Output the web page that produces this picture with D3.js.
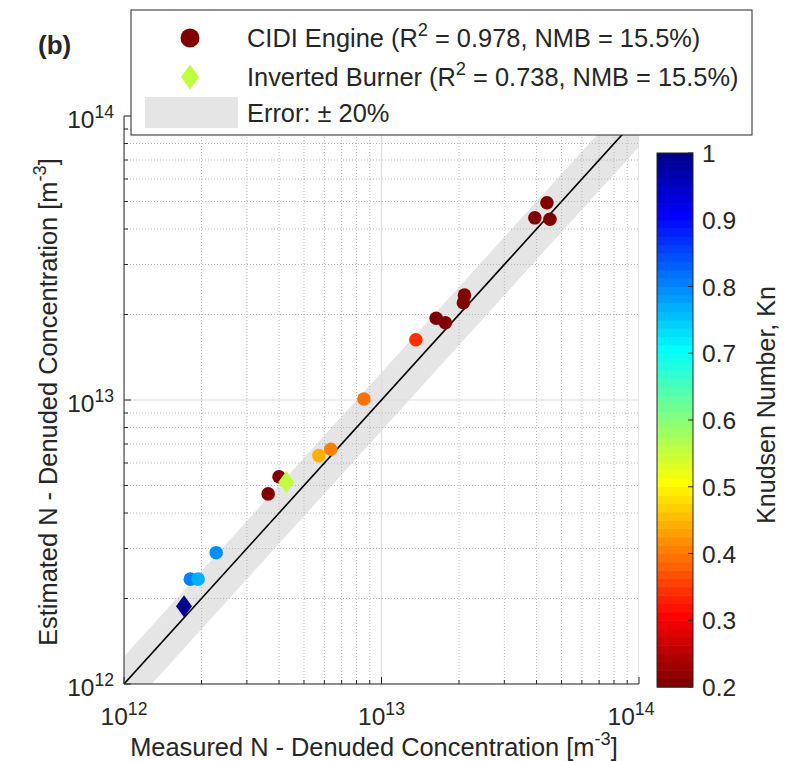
<!DOCTYPE html>
<html><head><meta charset="utf-8">
<script src="https://cdn.jsdelivr.net/npm/d3@7"></script>
<style>
body{margin:0;background:#fff}
text{font-family:"Liberation Sans",Arial,Helvetica,sans-serif;fill:#262626}
</style>
</head><body>
<svg id="chart" width="792" height="761"></svg>
<script>
// ---- data ----
const cidiMeasured  = [4.39e13, 3.94e13, 4.51e13, 2.10e13, 2.08e13, 1.63e13, 1.77e13, 1.36e13, 8.54e12, 6.35e12, 5.71e12, 4.00e12, 3.63e12, 2.28e12, 1.81e12, 1.94e12];
const cidiEstimated = [4.95e13, 4.38e13, 4.33e13, 2.34e13, 2.20e13, 1.94e13, 1.87e13, 1.63e13, 1.008e13, 6.71e12, 6.37e12, 5.37e12, 4.67e12, 2.90e12, 2.34e12, 2.34e12];
const cidiKn        = [0.2, 0.2, 0.2, 0.2, 0.2, 0.2, 0.2, 0.344, 0.394, 0.406, 0.444, 0.2, 0.2, 0.794, 0.806, 0.769];
const burnerMeasured  = [4.27e12, 1.71e12];
const burnerEstimated = [5.14e12, 1.88e12];
const burnerKn        = [0.556, 1.0];
const axisTicks = [1e12, 1e13, 1e14];
const axisTickExponents = ["12", "13", "14"];
const knTicks = [0.2, 0.3, 0.4, 0.5, 0.6, 0.7, 0.8, 0.9, 1];
const knTickLabels = ["0.2", "0.3", "0.4", "0.5", "0.6", "0.7", "0.8", "0.9", "1"];
const errorUpper = 1.25, errorLower = 0.78;
const legendEntries = [
  {type: "circle", parts: [["CIDI Engine (R"], ["2", true], [" = 0.978, NMB = 15.5%)"]]},
  {type: "diamond", parts: [["Inverted Burner (R"], ["2", true], [" = 0.738, NMB = 15.5%)"]]},
  {type: "band", parts: [["Error: \u00b1 20%"]]}
];

// ---- MATLAB jet(64), flipped ----
function jet(m) {
  const n = Math.ceil(m / 4), u = [];
  for (let i = 1; i <= n; i++) u.push(i / n);
  for (let i = 0; i < n - 1; i++) u.push(1);
  for (let i = n; i >= 1; i--) u.push(i / n);
  const off = Math.ceil(n / 2) - (m % 4 === 1 ? 1 : 0);
  const J = d3.range(m).map(() => [0, 0, 0]);
  u.forEach((val, k) => {
    const g = off + k + 1, r = g + n, b = g - n;
    if (r <= m) J[r - 1][0] = val;
    if (g <= m) J[g - 1][1] = val;
    if (b >= 1 && b <= m) J[b - 1][2] = val;
  });
  return J.map(c => d3.rgb(c[0] * 255, c[1] * 255, c[2] * 255).formatHex());
}
const cmap = jet(64).reverse();
const knMin = 0.2, knMax = 1.0;
function knColor(v) {
  let i = Math.floor((v - knMin) / (knMax - knMin) * 64);
  i = Math.max(0, Math.min(63, i));
  return cmap[i];
}

const svg = d3.select("#chart");
const x = d3.scaleLog().domain([1e12, 1e14]).range([124, 639]);
const y = d3.scaleLog().domain([1e12, 1e14]).range([684, 116]);
const [x0, x1] = x.range(), [y0, y1] = y.range();

svg.append("clipPath").attr("id", "plotclip").append("rect")
  .attr("x", x0).attr("y", y1).attr("width", x1 - x0).attr("height", y0 - y1);

const plot = svg.append("g").attr("clip-path", "url(#plotclip)");

// error band
const bandX = [1e11, 1e15];
const bandPts = bandX.map(v => [x(v), y(v * errorUpper)])
  .concat(bandX.slice().reverse().map(v => [x(v), y(v * errorLower)]));
plot.append("polygon").attr("points", bandPts.map(p => p.join(",")).join(" "))
  .attr("fill", "#e5e5e5");

// grid
const minor = [];
[1e12, 1e13].forEach(d => { for (let k = 2; k <= 9; k++) minor.push(k * d); });
plot.selectAll(".gxm").data(minor).join("line")
  .attr("x1", d => x(d)).attr("x2", d => x(d)).attr("y1", y0).attr("y2", y1)
  .attr("stroke", "#b8b8b8").attr("stroke-width", 1).attr("stroke-dasharray", "1,2");
plot.selectAll(".gym").data(minor).join("line")
  .attr("y1", d => y(d)).attr("y2", d => y(d)).attr("x1", x0).attr("x2", x1)
  .attr("stroke", "#b8b8b8").attr("stroke-width", 1).attr("stroke-dasharray", "1,2");
plot.selectAll(".gxM").data(axisTicks).join("line")
  .attr("x1", d => x(d)).attr("x2", d => x(d)).attr("y1", y0).attr("y2", y1)
  .attr("stroke", "#dcdcdc").attr("stroke-width", 1.2);
plot.selectAll(".gyM").data(axisTicks).join("line")
  .attr("y1", d => y(d)).attr("y2", d => y(d)).attr("x1", x0).attr("x2", x1)
  .attr("stroke", "#dcdcdc").attr("stroke-width", 1.2);

// 1:1 line
plot.append("line").attr("x1", x(1e11)).attr("y1", y(1e11)).attr("x2", x(1e15)).attr("y2", y(1e15))
  .attr("stroke", "#000").attr("stroke-width", 1.6);

// points
const cidi = cidiMeasured.map((m, i) => ({m, e: cidiEstimated[i], kn: cidiKn[i]}));
const burner = burnerMeasured.map((m, i) => ({m, e: burnerEstimated[i], kn: burnerKn[i]}));
plot.selectAll(".cidi").data(cidi).join("circle")
  .attr("cx", d => x(d.m)).attr("cy", d => y(d.e)).attr("r", 6.8)
  .attr("fill", d => knColor(d.kn));
const diamond = (hw, hh) => `M0,${-hh}L${hw},0L0,${hh}L${-hw},0Z`;
plot.selectAll(".burner").data(burner).join("path")
  .attr("transform", d => `translate(${x(d.m)},${y(d.e)})`)
  .attr("d", diamond(8, 11)).attr("fill", d => knColor(d.kn));

// axes
const axisColor = "#262626";
const ax = svg.append("g");
ax.append("line").attr("x1", x0).attr("x2", x0).attr("y1", y0).attr("y2", y1).attr("stroke", axisColor);
ax.append("line").attr("x1", x0).attr("x2", x1).attr("y1", y0).attr("y2", y0).attr("stroke", axisColor);
ax.selectAll(".ty").data(axisTicks).join("line")
  .attr("x1", x0).attr("x2", x0 + 7).attr("y1", d => y(d)).attr("y2", d => y(d)).attr("stroke", axisColor);
ax.selectAll(".tym").data(minor).join("line")
  .attr("x1", x0).attr("x2", x0 + 4).attr("y1", d => y(d)).attr("y2", d => y(d)).attr("stroke", axisColor);
ax.selectAll(".tx").data(axisTicks).join("line")
  .attr("y1", y0).attr("y2", y0 - 7).attr("x1", d => x(d)).attr("x2", d => x(d)).attr("stroke", axisColor);
ax.selectAll(".txm").data(minor).join("line")
  .attr("y1", y0).attr("y2", y0 - 4).attr("x1", d => x(d)).attr("x2", d => x(d)).attr("stroke", axisColor);

function richText(sel, parts, fs) {
  parts.forEach(p => {
    const t = sel.append("tspan").text(p[0]);
    if (p[1]) {
      t.attr("font-size", fs * 0.72).attr("dy", -fs * 0.42);
    } else if (sel.selectAll("tspan").size() > 1) {
      t.attr("dy", fs * 0.42);
    }
  });
  return sel;
}

// tick labels
axisTicks.forEach((d, i) => {
  const ty = svg.append("text").attr("x", x0 - 10).attr("y", y(d) + 12)
    .attr("text-anchor", "end").attr("font-size", 24.5);
  richText(ty, [["10"], [axisTickExponents[i], true]], 24.5);
  const xl = i === 2 ? x(d) - 8 : x(d);
  const tx = svg.append("text").attr("x", xl).attr("y", 725)
    .attr("text-anchor", "middle").attr("font-size", 24.5);
  richText(tx, [["10"], [axisTickExponents[i], true]], 24.5);
});

// axis labels
const xl = svg.append("text").attr("x", 374).attr("y", 756).attr("text-anchor", "middle").attr("font-size", 25.4);
richText(xl, [["Measured N - Denuded Concentration [m"], ["-3", true], ["]"]], 25.4);
const yl = svg.append("text").attr("transform", "translate(57,402) rotate(-90)")
  .attr("text-anchor", "middle").attr("font-size", 25.4);
richText(yl, [["Estimated N - Denuded Concentration [m"], ["-3", true], ["]"]], 25.4);

// panel label
svg.append("text").attr("x", 38).attr("y", 54).attr("font-size", 26).attr("font-weight", "bold").text("(b)");

// colorbar
const cb = svg.append("g");
const cy = d3.scaleLinear().domain([knMin, knMax]).range([687, 153]);
const cbx = 657, cbw = 36;
const step = (knMax - knMin) / 64;
cb.selectAll("rect.band").data(d3.range(64)).join("rect")
  .attr("x", cbx).attr("width", cbw)
  .attr("y", i => cy(knMin + (i + 1) * step)).attr("height", i => cy(knMin + i * step) - cy(knMin + (i + 1) * step) + 0.6)
  .attr("fill", i => cmap[i]);
cb.append("rect").attr("x", cbx).attr("y", 153).attr("width", cbw).attr("height", 534)
  .attr("fill", "none").attr("stroke", axisColor);
cb.selectAll(".ct").data(knTicks).join("line")
  .attr("x1", cbx + cbw).attr("x2", cbx + cbw - 5).attr("y1", d => cy(d)).attr("y2", d => cy(d)).attr("stroke", axisColor);
cb.selectAll(".cl").data(knTicks).join("text")
  .attr("x", 702).attr("y", d => cy(d) + 9).attr("font-size", 24.5)
  .text((d, i) => knTickLabels[i]);
svg.append("text").attr("transform", "translate(775,405) rotate(-90)")
  .attr("text-anchor", "middle").attr("font-size", 25).text("Knudsen Number, Kn");

// legend
const lg = svg.append("g");
lg.append("rect").attr("x", 131).attr("y", 10).attr("width", 621).attr("height", 125)
  .attr("fill", "#fff").attr("stroke", axisColor).attr("stroke-width", 1);
const rowY = [38, 77, 113];
legendEntries.forEach((e, i) => {
  if (e.type === "circle") {
    lg.append("circle").attr("cx", 190).attr("cy", rowY[i]).attr("r", 9.5).attr("fill", knColor(cidiKn[0]));
  } else if (e.type === "diamond") {
    lg.append("path").attr("transform", `translate(190,${rowY[i]})`).attr("d", diamond(9, 12.5))
      .attr("fill", knColor(burnerKn[0]));
  } else {
    lg.append("rect").attr("x", 145).attr("y", 97).attr("width", 93).attr("height", 31).attr("fill", "#e5e5e5");
  }
  const t = lg.append("text").attr("x", 247).attr("y", rowY[i] + 9).attr("font-size", 25.4);
  richText(t, e.parts, 25.4);
});
</script>
</body></html>
